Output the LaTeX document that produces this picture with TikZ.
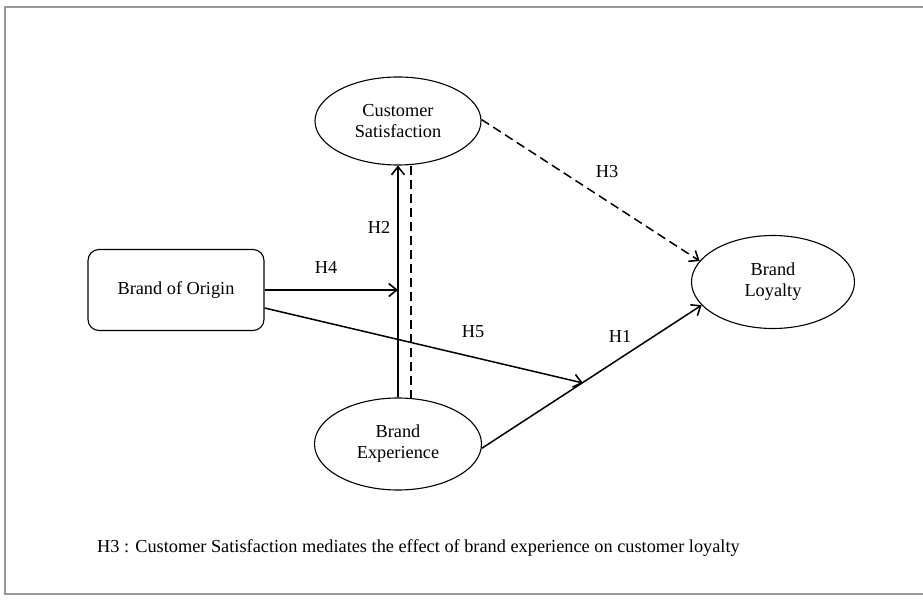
\documentclass[tikz,border=0pt]{standalone}
\usepackage{fontspec}
\setmainfont{Liberation Serif}
\usetikzlibrary{arrows.meta,shapes.geometric}
\begin{document}
\begin{tikzpicture}[x=1pt,y=-1pt,
  every node/.style={font=\fontsize{18.3}{21}\selectfont},
  ell/.style={draw,ellipse,line width=1.1pt,align=center,inner sep=0pt},
  rbox/.style={draw,rounded corners=11pt,line width=1.1pt,align=center},
  conn/.style={line width=1.5pt,-{Straight Barb[length=8pt,width=13pt,line width=1.6pt]}},
  dconn/.style={conn,dashed,dash pattern=on 9pt off 5pt},
  lbl/.style={inner sep=0pt}]
\useasboundingbox (0,0) rectangle (923,601);
\draw[line width=1.8pt,gray!80] (5,7) rectangle (940,594);
\node[ell,minimum width=166pt,minimum height=88pt] (cs) at (398,121) {Customer\\Satisfaction};
\node[ell,minimum width=167pt,minimum height=92pt] (be) at (398,444) {Brand\\Experience};
\node[ell,minimum width=163pt,minimum height=93pt] (bl) at (773,282) {Brand\\Loyalty};
\node[rbox,minimum width=176pt,minimum height=81pt] (bo) at (176,290) {Brand of Origin};
\coordinate (h4end) at (398,290);
\coordinate (h5end) at (583,383);
\draw[conn] (bo.east) -- (h4end);
\draw[conn] (be.north) -- (cs.south);
\draw[line width=1.5pt,dashed,dash pattern=on 9pt off 5pt] (411,399) -- (411,165);
\draw[conn] (bo.east) ++(0,18) -- (h5end);
\draw[conn] (be.-3) -- (bl.198);
\draw[dconn] (cs.1) -- (bl.164);
\node[lbl] (l4) at (326,267) {H4};
\node[lbl] (l2) at (379,227) {H2};
\node[lbl] (l5) at (473,332) {H5};
\node[lbl] (l1) at (620,336) {H1};
\node[lbl] (l3) at (607,172) {H3};
\node[lbl,anchor=west] (fn) at (97,548) {H3 : Customer Satisfaction mediates the effect of brand experience on customer loyalty};
\end{tikzpicture}
\end{document}
